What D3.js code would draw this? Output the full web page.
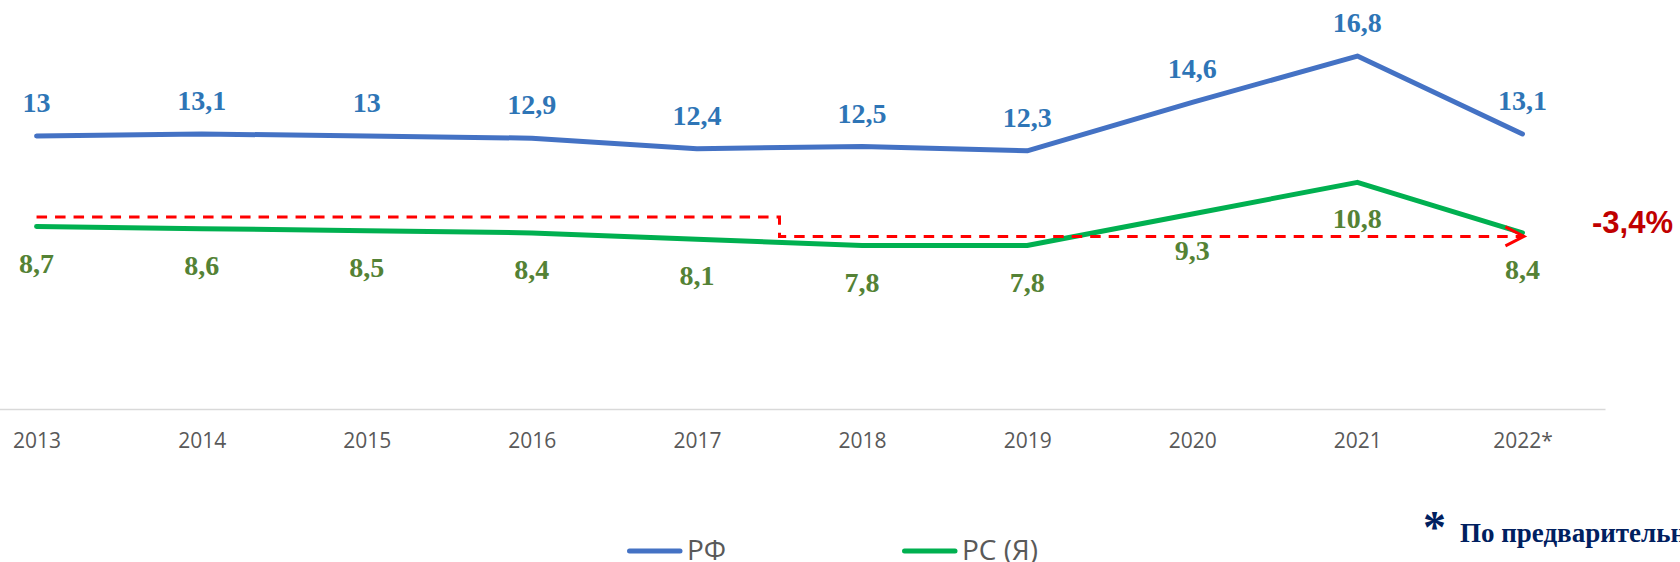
<!DOCTYPE html>
<html>
<head>
<meta charset="utf-8">
<script src="https://cdn.jsdelivr.net/npm/d3@7"></script>
<style>
  html, body { margin: 0; padding: 0; background: #fff; overflow: hidden; }
</style>
</head>
<body>
<div id="chart"></div>
<script>
'use strict';

// data
var years = ['2013', '2014', '2015', '2016', '2017', '2018', '2019', '2020', '2021', '2022*'];
var rfValues = [13, 13.1, 13, 12.9, 12.4, 12.5, 12.3, 14.6, 16.8, 13.1];
var rsValues = [8.7, 8.6, 8.5, 8.4, 8.1, 7.8, 7.8, 9.3, 10.8, 8.4];
var seriesNames = ['РФ', 'РС (Я)'];
// dashed step annotation (levels in chart units), and its note
var stepLevels = [9.15, 8.23];
var changeLabel = '-3,4%';
var footnote = 'По предварительным данным';

var width = 1680, height = 562;
var colors = { rf: '#4472C4', rs: '#00B050', rfText: '#2E75B6', rsText: '#548235' };

var svg = d3.select('#chart').append('svg')
  .attr('width', width)
  .attr('height', height);

var x = d3.scalePoint().domain(years).range([-46, 1605]).padding(0.5);
var y = d3.scaleLinear().domain([0, 18]).range([409.7, 30.8]);

// x axis
var xAxis = svg.append('g')
  .attr('transform', 'translate(0,409)')
  .call(d3.axisBottom(x).tickSize(0).tickPadding(0));
xAxis.select('.domain').attr('stroke', '#D9D9D9').attr('stroke-width', 1.6);
xAxis.selectAll('text')
  .attr('dy', null)
  .attr('y', 39)
  .attr('fill', '#595959')
  .style('font-family', '"Open Sans", sans-serif')
  .style('font-size', '21px');

var line = d3.line()
  .x(function (d, i) { return x(years[i]); })
  .y(function (d) { return y(d); });

// lines
svg.append('path')
  .datum(rsValues)
  .attr('d', line)
  .attr('fill', 'none')
  .attr('stroke', colors.rs)
  .attr('stroke-width', 5)
  .attr('stroke-linecap', 'round')
  .attr('stroke-linejoin', 'round');

svg.append('path')
  .datum(rfValues)
  .attr('d', line)
  .attr('fill', 'none')
  .attr('stroke', colors.rf)
  .attr('stroke-width', 5)
  .attr('stroke-linecap', 'round')
  .attr('stroke-linejoin', 'round');

// red dashed step + arrow (drawn over the lines)
var midX = (x(years[4]) + x(years[5])) / 2;
var lastX = x(years[years.length - 1]);
var stepPath = d3.path();
stepPath.moveTo(x(years[0]), y(stepLevels[0]));
stepPath.lineTo(midX, y(stepLevels[0]));
stepPath.lineTo(midX, y(stepLevels[1]));
stepPath.lineTo(lastX, y(stepLevels[1]));
svg.append('path')
  .attr('d', stepPath.toString())
  .attr('fill', 'none')
  .attr('stroke', '#FF0000')
  .attr('stroke-width', 3)
  .attr('stroke-dasharray', '10.5,8');

svg.append('path')
  .attr('d', 'M' + (lastX - 17) + ',' + (y(stepLevels[1]) - 9.5) +
    'L' + (lastX + 1.5) + ',' + y(stepLevels[1]) +
    'L' + (lastX - 17) + ',' + (y(stepLevels[1]) + 9.5))
  .attr('fill', 'none')
  .attr('stroke', '#FF0000')
  .attr('stroke-width', 3);

function fmt(v) {
  return String(v).replace('.', ',');
}

// data labels
svg.append('g').selectAll('text')
  .data(rfValues)
  .enter().append('text')
  .attr('x', function (d, i) { return x(years[i]); })
  .attr('y', function (d) { return y(d) - 24; })
  .attr('text-anchor', 'middle')
  .attr('fill', colors.rfText)
  .style('font-family', '"Liberation Serif", "Times New Roman", serif')
  .style('font-weight', 'bold')
  .style('font-size', '28px')
  .text(fmt);

svg.append('g').selectAll('text')
  .data(rsValues)
  .enter().append('text')
  .attr('x', function (d, i) { return x(years[i]); })
  .attr('y', function (d) { return y(d) + 46; })
  .attr('text-anchor', 'middle')
  .attr('fill', colors.rsText)
  .style('font-family', '"Liberation Serif", "Times New Roman", serif')
  .style('font-weight', 'bold')
  .style('font-size', '28px')
  .text(fmt);

// change note
svg.append('text')
  .attr('x', 1592)
  .attr('y', y(stepLevels[1]) - 3.5)
  .attr('fill', '#C00000')
  .style('font-family', '"Liberation Sans", Arial, sans-serif')
  .style('font-weight', 'bold')
  .style('font-size', '31px')
  .text(changeLabel);

// legend
var legend = svg.append('g');
var legendItems = [
  { name: seriesNames[0], color: colors.rf, x: 627 },
  { name: seriesNames[1], color: colors.rs, x: 902 }
];
legendItems.forEach(function (it) {
  legend.append('line')
    .attr('x1', it.x + 2.5).attr('x2', it.x + 53)
    .attr('y1', 551).attr('y2', 551)
    .attr('stroke', it.color)
    .attr('stroke-width', 5)
    .attr('stroke-linecap', 'round');
  legend.append('text')
    .attr('x', it.x + 60)
    .attr('y', 560)
    .attr('fill', '#595959')
    .style('font-family', '"Open Sans", sans-serif')
    .style('font-size', '28px')
    .text(it.name);
});

// footnote
svg.append('text')
  .attr('x', 1423)
  .attr('y', 543)
  .attr('fill', '#002060')
  .style('font-family', '"Liberation Serif", "Times New Roman", serif')
  .style('font-weight', 'bold')
  .style('font-size', '46px')
  .text('*');
svg.append('text')
  .attr('x', 1460)
  .attr('y', 542)
  .attr('fill', '#002060')
  .style('font-family', '"Liberation Serif", "Times New Roman", serif')
  .style('font-weight', 'bold')
  .style('font-size', '27px')
  .text(footnote);
</script>
</body>
</html>
